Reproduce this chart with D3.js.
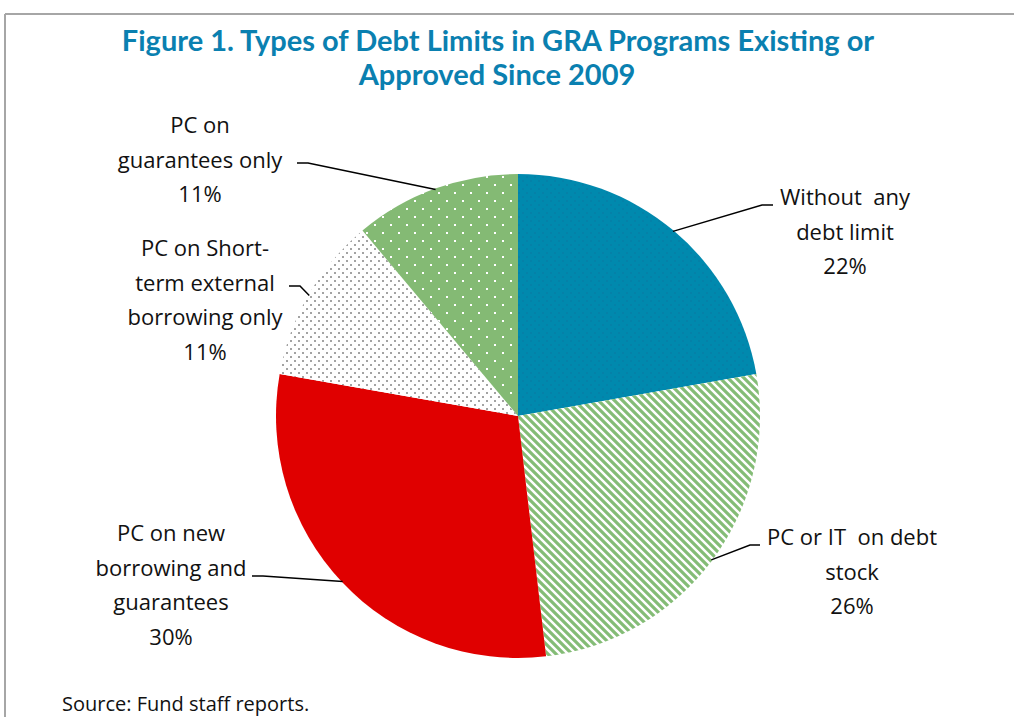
<!DOCTYPE html>
<html>
<head>
<meta charset="utf-8">
<script src="https://cdn.jsdelivr.net/npm/d3@7"></script>
<style>
  body { margin: 0; background: #fff; }
  svg { display: block; }
</style>
</head>
<body>
<div id="chart"></div>
<script>
// slice data, clockwise from 12 o'clock
var categories = ["Without any debt limit", "PC or IT on debt stock", "PC on new borrowing and guarantees",
                  "PC on Short-term external borrowing only", "PC on guarantees only"]
var shares = [22.2, 25.9, 29.6, 11.1, 11.1]
var pctLabels = ["22%", "26%", "30%", "11%", "11%"]
// how each label is broken into lines
var labelLines = [["Without  any", "debt limit"], ["PC or IT  on debt", "stock"], ["PC on new", "borrowing and", "guarantees"],
                  ["PC on Short-", "term external", "borrowing only"], ["PC on", "guarantees only"]]

var width = 1014, height = 717
var cx = 518, cy = 416, radius = 242

var svg = d3.select("#chart").append("svg")
    .attr("width", width)
    .attr("height", height)
    .style("font-family", "'Open Sans', 'Noto Sans', sans-serif")

// frame of the figure box
svg.append("line").attr("x1", 5).attr("y1", 14).attr("x2", width).attr("y2", 14)
    .style("stroke", "#a6a6a6").style("stroke-width", 2)
svg.append("line").attr("x1", 5).attr("y1", 14).attr("x2", 5).attr("y2", height)
    .style("stroke", "#a6a6a6").style("stroke-width", 2)

// patterns
var defs = svg.append("defs")

var pTeal = defs.append("pattern").attr("id", "pTeal").attr("patternUnits", "userSpaceOnUse")
    .attr("width", 8).attr("height", 8)
pTeal.append("rect").attr("width", 8).attr("height", 8).style("fill", "#0089ae")
pTeal.append("rect").attr("x", 0).attr("y", 0).attr("width", 2).attr("height", 2).style("fill", "#0581a8")
pTeal.append("rect").attr("x", 4).attr("y", 4).attr("width", 2).attr("height", 2).style("fill", "#0581a8")

var pStripe = defs.append("pattern").attr("id", "pStripe").attr("patternUnits", "userSpaceOnUse")
    .attr("width", 8).attr("height", 8)
pStripe.append("rect").attr("width", 8).attr("height", 8).style("fill", "#fff")
pStripe.append("path").attr("d", "M-2,-2 L10,10 M-2,6 L2,10 M6,-2 L10,2")
    .style("stroke", "#84bc76").style("stroke-width", 3.2)

var pGray = defs.append("pattern").attr("id", "pGray").attr("patternUnits", "userSpaceOnUse")
    .attr("width", 8).attr("height", 8)
pGray.append("rect").attr("width", 8).attr("height", 8).style("fill", "#fff")
pGray.append("rect").attr("x", 0).attr("y", 0).attr("width", 2).attr("height", 2).style("fill", "#a3a3a3")
pGray.append("rect").attr("x", 4).attr("y", 4).attr("width", 2).attr("height", 2).style("fill", "#a3a3a3")

var pGreen = defs.append("pattern").attr("id", "pGreen").attr("patternUnits", "userSpaceOnUse")
    .attr("width", 16).attr("height", 16)
pGreen.append("rect").attr("width", 16).attr("height", 16).style("fill", "#84ba74")
pGreen.append("rect").attr("x", 0).attr("y", 0).attr("width", 2).attr("height", 2).style("fill", "#fff")
pGreen.append("rect").attr("x", 8).attr("y", 8).attr("width", 2).attr("height", 2).style("fill", "#fff")

var fills = ["url(#pTeal)", "url(#pStripe)", "#e00000", "url(#pGray)", "url(#pGreen)"]

// title
var title = svg.append("g").style("font-weight", "bold").style("fill", "#0a80b0")
    .style("font-family", "Lato, sans-serif")
    .style("font-size", "29px").attr("text-anchor", "middle")
title.append("text").attr("x", 498).attr("y", 51).text("Figure 1. Types of Debt Limits in GRA Programs Existing or")
title.append("text").attr("x", 497).attr("y", 85).text("Approved Since 2009")

// pie
var pie = d3.pie().sort(null).value(d => d)
var arc = d3.arc().innerRadius(0).outerRadius(radius)
var edge = d3.arc().innerRadius(radius - 1).outerRadius(radius - 1)
var arcs = pie(shares)

var pieG = svg.append("g").attr("transform", `translate(${cx},${cy})`)
pieG.selectAll("path").data(arcs).enter().append("path")
    .attr("d", arc)
    .style("fill", (d, i) => fills[i])

// label layout: text centre x, first line y, elbow point, end of the horizontal stub
var labelPos = [
  {x: 845, y: 205, elbow: [762, 205], stub: [773, 205]},
  {x: 852, y: 545, elbow: [750, 545], stub: [760, 545]},
  {x: 171, y: 541, elbow: [263, 576], stub: [252, 576]},
  {x: 205, y: 256, elbow: [300, 286], stub: [289, 286]},
  {x: 200, y: 133, elbow: [308, 163], stub: [297, 163]}
]
var lineH = 34.5

var labels = svg.append("g").style("font-size", "22px").style("fill", "#111")

arcs.forEach(function(a, i) {
  var p = edge.centroid(a)
  var lp = labelPos[i]
  labels.append("polyline")
      .attr("points", [[cx + p[0], cy + p[1]], lp.elbow, lp.stub].map(q => q.join(",")).join(" "))
      .style("fill", "none").style("stroke", "#000").style("stroke-width", 1.5)
  var lines = labelLines[i].concat([pctLabels[i]])
  var t = labels.append("text").attr("text-anchor", "middle")
  lines.forEach(function(s, j) {
    t.append("tspan").attr("x", lp.x).attr("y", lp.y + j * lineH).text(s).style("white-space", "pre")
  })
})
labels.selectAll("text").attr("xml:space", "preserve")

// source note
svg.append("text").attr("x", 62).attr("y", 711).style("font-size", "20px").style("fill", "#111")
    .text("Source: Fund staff reports.")
</script>
</body>
</html>
